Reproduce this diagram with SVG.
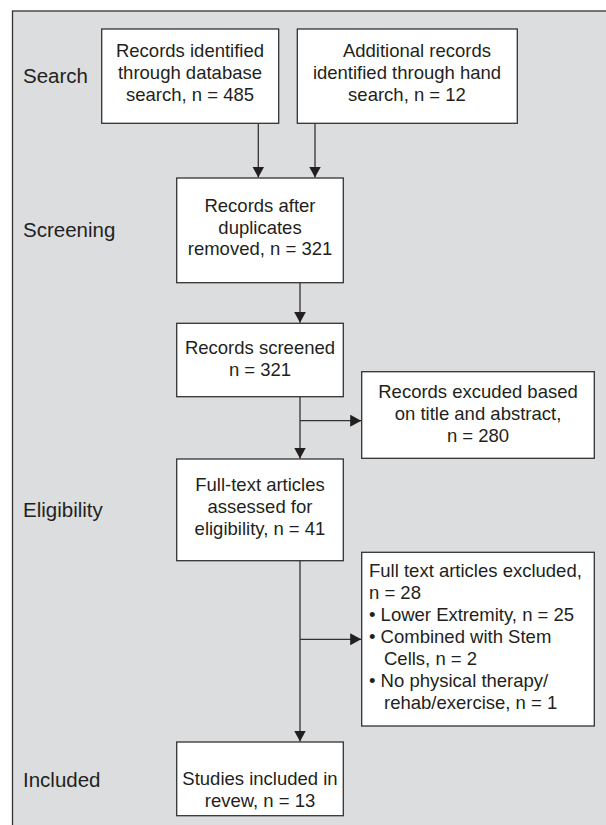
<svg xmlns="http://www.w3.org/2000/svg" width="606" height="825" viewBox="0 0 606 825">
<style>
.box{fill:#ffffff;stroke:#333333;stroke-width:1.3}
.t{font-family:"Liberation Sans",Arial,sans-serif;font-size:18.5px;fill:#231f20}
.c{text-anchor:middle}
.lab{font-family:"Liberation Sans",Arial,sans-serif;font-size:20.5px;fill:#231f20}
.ln{stroke:#333333;stroke-width:1.3;fill:none}
</style>
<defs>
<marker id="ah" markerUnits="userSpaceOnUse" markerWidth="12" markerHeight="12" viewBox="0 0 12 12" refX="11" refY="6" orient="auto">
<path d="M0,0 L11,6 L0,12 Z" fill="#231f20"/>
</marker>
</defs>
<rect x="0" y="0" width="606" height="825" fill="#ffffff"/>
<rect x="12.5" y="11" width="620" height="840" fill="#dcdddf" stroke="#333333" stroke-width="1.3"/>
<g id="labels">
<text class="lab" x="23" y="83">Search</text>
<text class="lab" x="23" y="237">Screening</text>
<text class="lab" x="23" y="517">Eligibility</text>
<text class="lab" x="23" y="787">Included</text>
</g>
<g id="connectors">
<line class="ln" x1="258.3" y1="123.3" x2="258.3" y2="177.5" marker-end="url(#ah)"/>
<line class="ln" x1="315" y1="123.3" x2="315" y2="177.5" marker-end="url(#ah)"/>
<line class="ln" x1="300" y1="282.7" x2="300" y2="322.7" marker-end="url(#ah)"/>
<line class="ln" x1="300" y1="396.7" x2="300" y2="458.5" marker-end="url(#ah)"/>
<line class="ln" x1="300" y1="420.7" x2="361.2" y2="420.7" marker-end="url(#ah)"/>
<line class="ln" x1="300" y1="560.7" x2="300" y2="741.5" marker-end="url(#ah)"/>
<line class="ln" x1="300" y1="639.3" x2="361.2" y2="639.3" marker-end="url(#ah)"/>
</g>
<g id="n1">
<rect class="box" x="101.7" y="29" width="177" height="94.3"/>
<text class="t c" x="190" y="57">Records identified</text>
<text class="t c" x="190" y="79">through database</text>
<text class="t c" x="190" y="101">search, n = 485</text>
</g>
<g id="n2">
<rect class="box" x="297.3" y="29" width="220" height="94.3"/>
<text class="t c" x="417" y="57">Additional records</text>
<text class="t c" x="407" y="79">identified through hand</text>
<text class="t c" x="407" y="101">search, n = 12</text>
</g>
<g id="n3">
<rect class="box" x="176.7" y="178" width="166.6" height="104.7"/>
<text class="t c" x="260" y="212">Records after</text>
<text class="t c" x="260" y="233.5">duplicates</text>
<text class="t c" x="260" y="255">removed, n = 321</text>
</g>
<g id="n4">
<rect class="box" x="176.7" y="323.3" width="166.6" height="73.4"/>
<text class="t c" x="260" y="354">Records screened</text>
<text class="t c" x="260" y="376">n = 321</text>
</g>
<g id="n5">
<rect class="box" x="361.7" y="371.7" width="232.6" height="86.6"/>
<text class="t c" x="478" y="398">Records excuded based</text>
<text class="t c" x="478" y="420">on title and abstract,</text>
<text class="t c" x="478" y="442">n = 280</text>
</g>
<g id="n6">
<rect class="box" x="176.7" y="459" width="166.6" height="101.7"/>
<text class="t c" x="260" y="491">Full-text articles</text>
<text class="t c" x="260" y="513">assessed for</text>
<text class="t c" x="260" y="535">eligibility, n = 41</text>
</g>
<g id="n7">
<rect class="box" x="361.7" y="552.3" width="232.6" height="173.7"/>
<text class="t" x="369" y="577">Full text articles excluded,</text>
<text class="t" x="369" y="598.5">n = 28</text>
<text class="t" x="369" y="621">• Lower Extremity, n = 25</text>
<text class="t" x="369" y="643">• Combined with Stem</text>
<text class="t" x="384" y="665">Cells, n = 2</text>
<text class="t" x="369" y="687">• No physical therapy/</text>
<text class="t" x="384" y="709">rehab/exercise, n = 1</text>
</g>
<g id="n8">
<rect class="box" x="176.7" y="742" width="166.6" height="73.7"/>
<text class="t c" x="260" y="785">Studies included in</text>
<text class="t c" x="260" y="807">revew, n = 13</text>
</g>
</svg>
